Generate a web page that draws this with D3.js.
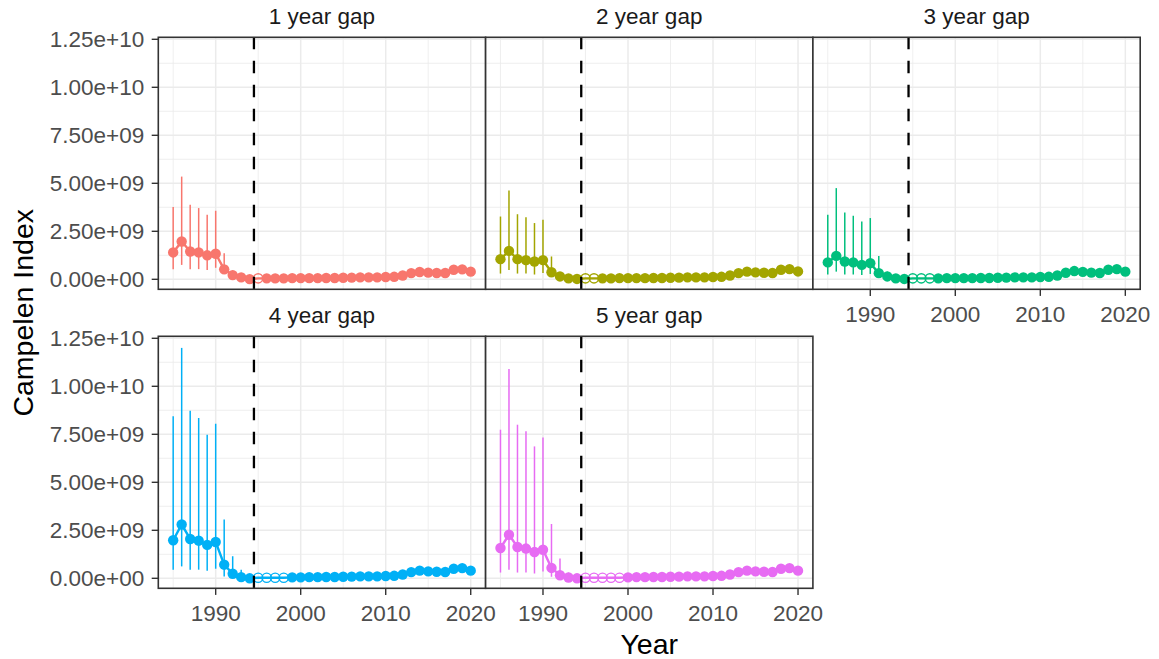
<!DOCTYPE html>
<html><head><meta charset="utf-8">
<script src="https://cdn.jsdelivr.net/npm/d3@7"></script>
<style>
body{margin:0;background:#fff}
svg{display:block}
text{font-family:"Liberation Sans",Arial,Helvetica,sans-serif}
</style>
</head><body>
<svg id="chart" width="1159" height="659"></svg>
<script>
// ---- data (Campelen Index, in units of 1e9) ----
const years = [1985,1986,1987,1988,1989,1990,1991,1992,1993,1994,1995,1996,1997,1998,1999,2000,2001,2002,2003,2004,2005,2006,2007,2008,2009,2010,2011,2012,2013,2014,2015,2016,2017,2018,2019,2020];
const panelLabels = ["1 year gap","2 year gap","3 year gap","4 year gap","5 year gap"];
const gapLength = [1,2,3,4,5];            // number of imputed (open) years after the break
const gapStart = 1995;
const breakYear = 1994.5;
const colors = ["#F8766D","#A3A500","#00BF7D","#00B0F6","#E76BF3"];

const est1 = [1.40,1.97,1.45,1.40,1.25,1.33,0.52,0.22,0.10,0.01,0.05,0.05,0.05,0.05,0.06,0.06,0.06,0.06,0.07,0.07,0.08,0.09,0.10,0.10,0.10,0.12,0.13,0.20,0.32,0.38,0.35,0.33,0.33,0.50,0.52,0.40];
const est2 = [1.05,1.48,1.05,1.00,0.93,1.00,0.37,0.15,0.05,0.02,0.05,0.05,0.05,0.05,0.06,0.06,0.06,0.06,0.07,0.07,0.08,0.09,0.10,0.10,0.10,0.12,0.13,0.20,0.32,0.40,0.36,0.34,0.33,0.50,0.53,0.41];
const est3 = [0.88,1.22,0.93,0.88,0.75,0.84,0.32,0.15,0.05,0.02,0.05,0.05,0.05,0.05,0.06,0.06,0.06,0.06,0.07,0.07,0.08,0.09,0.10,0.10,0.10,0.12,0.13,0.20,0.34,0.43,0.39,0.35,0.33,0.50,0.53,0.40];
const est4 = [1.98,2.80,2.05,1.96,1.74,1.89,0.71,0.24,0.06,0.00,0.03,0.03,0.03,0.03,0.05,0.05,0.06,0.06,0.07,0.07,0.08,0.09,0.10,0.10,0.10,0.12,0.13,0.20,0.32,0.40,0.36,0.34,0.33,0.50,0.53,0.40];
const est5 = [1.58,2.27,1.63,1.55,1.37,1.49,0.54,0.16,0.04,0.00,0.03,0.03,0.03,0.03,0.03,0.05,0.06,0.06,0.07,0.07,0.08,0.09,0.10,0.10,0.10,0.12,0.13,0.20,0.32,0.40,0.36,0.34,0.33,0.50,0.53,0.40];

// confidence intervals (only visibly wider than the points for these years)
const ciYears = [1985,1986,1987,1988,1989,1990,1991,1992,1993];
const upper1 = [3.76,5.35,3.88,3.71,3.36,3.57,1.36,0.45,0.18];
const lower1 = [0.53,0.75,0.53,0.53,0.49,0.60,0.28,0.10,0.04];
const upper2 = [3.27,4.63,3.39,3.23,2.93,3.10,1.19,0.35,0.12];
const lower2 = [0.30,0.49,0.30,0.30,0.25,0.33,0.18,0.08,0.02];
const upper3 = [3.36,4.75,3.48,3.31,3.01,3.19,1.22,0.40,0.12];
const lower3 = [0.25,0.40,0.25,0.25,0.22,0.28,0.15,0.06,0.02];
const upper4 = [8.44,12.0,8.73,8.35,7.48,8.05,3.06,1.15,0.45];
const lower4 = [0.45,0.62,0.45,0.45,0.40,0.50,0.10,0.05,0.01];
const upper5 = [7.74,10.9,8.00,7.66,6.87,7.34,2.83,1.03,0.30];
const lower5 = [0.30,0.45,0.30,0.30,0.25,0.35,0.08,0.03,0.01];

const xTicks = [1990,2000,2010,2020];
const xMinor = [1985,1995,2005,2015];
const yTicks = [0,2.5,5,7.5,10,12.5];
const yTickLabels = ["0.00e+00","2.50e+09","5.00e+09","7.50e+09","1.00e+10","1.25e+10"];
const yMinor = [1.25,3.75,6.25,8.75,11.25];

const estimates = [est1,est2,est3,est4,est5];
const uppers = [upper1,upper2,upper3,upper4,upper5];
const lowers = [lower1,lower2,lower3,lower4,lower5];

// ---- layout ----
const colLeft = [158.3, 485.6, 812.9];
const rowTop = [37.3, 336.3];
const pw = 327.3, ph = 252;
const tickFont = 22.5, titleFont = 28.5;

const svg = d3.select("#chart");
svg.append("rect").attr("width",1159).attr("height",659).attr("fill","#fff");

const x = d3.scaleLinear().domain([1983.25, 2021.75]).range([0, pw]);
const y = d3.scaleLinear().domain([-0.52, 12.604]).range([ph, 0]);

panelLabels.forEach((lab, i) => {
  const col = i % 3, row = Math.floor(i / 3);
  const g = svg.append("g").attr("transform", `translate(${colLeft[col]},${rowTop[row]})`);
  const color = colors[i];

  g.append("rect").attr("width", pw).attr("height", ph).attr("fill", "#fff");

  // minor grid
  g.selectAll(".xmin").data(xMinor).join("line")
    .attr("x1", d => x(d)).attr("x2", d => x(d)).attr("y1", 0).attr("y2", ph)
    .attr("stroke", "#EBEBEB").attr("stroke-width", 0.8);
  g.selectAll(".ymin").data(yMinor).join("line")
    .attr("y1", d => y(d)).attr("y2", d => y(d)).attr("x1", 0).attr("x2", pw)
    .attr("stroke", "#EBEBEB").attr("stroke-width", 0.8);
  // major grid
  g.selectAll(".xmaj").data(xTicks).join("line")
    .attr("x1", d => x(d)).attr("x2", d => x(d)).attr("y1", 0).attr("y2", ph)
    .attr("stroke", "#EBEBEB").attr("stroke-width", 1.5);
  g.selectAll(".ymaj").data(yTicks).join("line")
    .attr("y1", d => y(d)).attr("y2", d => y(d)).attr("x1", 0).attr("x2", pw)
    .attr("stroke", "#EBEBEB").attr("stroke-width", 1.5);

  // CI ranges
  g.selectAll(".ci").data(ciYears).join("line")
    .attr("x1", d => x(d)).attr("x2", d => x(d))
    .attr("y1", (d, k) => y(lowers[i][k])).attr("y2", (d, k) => y(uppers[i][k]))
    .attr("stroke", color).attr("stroke-width", 1.5);

  const pts = years.map((yr, k) => ({yr, v: estimates[i][k], open: yr >= gapStart && yr < gapStart + gapLength[i]}));

  g.append("path").datum(pts)
    .attr("d", d3.line().x(d => x(d.yr)).y(d => y(d.v)))
    .attr("fill", "none").attr("stroke", color).attr("stroke-width", 2.4);

  g.selectAll(".pt").data(pts.filter(d => !d.open)).join("circle")
    .attr("cx", d => x(d.yr)).attr("cy", d => y(d.v)).attr("r", 5.2).attr("fill", color);
  g.selectAll(".op").data(pts.filter(d => d.open)).join("circle")
    .attr("cx", d => x(d.yr)).attr("cy", d => y(d.v)).attr("r", 4.6)
    .attr("fill", "none").attr("stroke", color).attr("stroke-width", 1.4);

  // break line
  g.append("line").attr("x1", x(breakYear)).attr("x2", x(breakYear)).attr("y1", ph).attr("y2", 0)
    .attr("stroke", "#000").attr("stroke-width", 2.3).attr("stroke-dasharray", "12.5,11.5");

  // border
  g.append("rect").attr("width", pw).attr("height", ph).attr("fill", "none")
    .attr("stroke", "#333333").attr("stroke-width", 1.6);

  // strip label
  g.append("text").attr("x", pw / 2).attr("y", -13.3).attr("text-anchor", "middle")
    .attr("font-size", tickFont).attr("fill", "#1A1A1A").text(lab);

  // y axis on first column
  if (col === 0) {
    g.selectAll(".yt").data(yTicks).join("line")
      .attr("x1", -6.6).attr("x2", 0).attr("y1", d => y(d)).attr("y2", d => y(d))
      .attr("stroke", "#333333").attr("stroke-width", 1.4);
    g.selectAll(".yl").data(yTicks).join("text")
      .attr("x", -14).attr("y", d => y(d)).attr("dy", "0.36em")
      .attr("text-anchor", "end").attr("font-size", tickFont).attr("fill", "#4D4D4D")
      .text((d, k) => yTickLabels[k]);
  }
  // x axis where no panel below
  if (row === 1 || col === 2) {
    g.selectAll(".xt").data(xTicks).join("line")
      .attr("x1", d => x(d)).attr("x2", d => x(d)).attr("y1", ph).attr("y2", ph + 6.6)
      .attr("stroke", "#333333").attr("stroke-width", 1.4);
    g.selectAll(".xl").data(xTicks).join("text")
      .attr("x", d => x(d)).attr("y", ph + 33)
      .attr("text-anchor", "middle").attr("font-size", tickFont).attr("fill", "#4D4D4D")
      .text(d => d);
  }
});

// axis titles
svg.append("text").attr("x", (colLeft[0] + colLeft[2] + pw) / 2).attr("y", 654)
  .attr("text-anchor", "middle").attr("font-size", titleFont).attr("fill", "#000").text("Year");
svg.append("text").attr("transform", `translate(33,${(rowTop[0] + rowTop[1] + ph) / 2}) rotate(-90)`)
  .attr("text-anchor", "middle").attr("font-size", titleFont).attr("fill", "#000").text("Campelen Index");
</script>
</body></html>
